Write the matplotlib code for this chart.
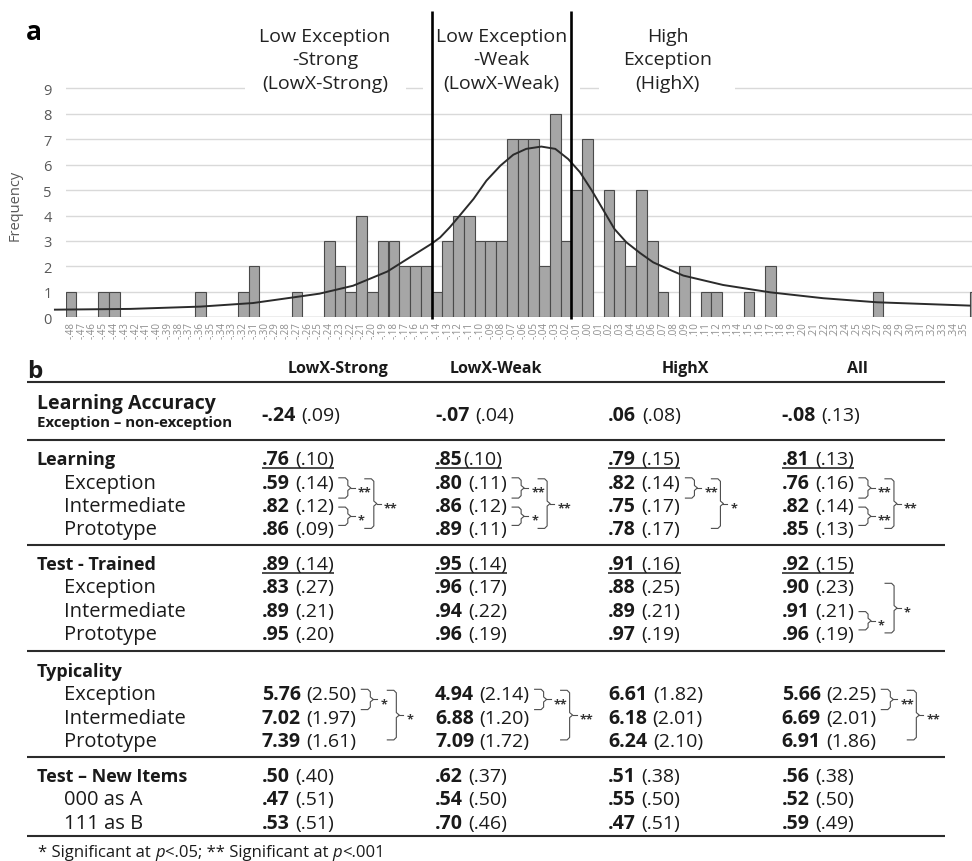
import numpy as np
import matplotlib
matplotlib.use('Agg')
import matplotlib.pyplot as plt
from matplotlib.patches import Rectangle

plt.rcParams['font.family'] = ['Open Sans', 'DejaVu Sans']

# ------------------------------------------------------------------ data: histogram (panel a)
score_hundredths = list(range(-48, 37))
score_labels = [('-' if k < 0 else '') + '.%02d' % abs(k) for k in score_hundredths]
frequency = [
    1, 0, 0, 1, 1, 0, 0, 0, 0, 0,   # -.48 .. -.39
    0, 0, 1, 0, 0, 0, 1, 2, 0, 0,   # -.38 .. -.29
    0, 1, 0, 0, 3, 2, 1, 4, 1, 3,   # -.28 .. -.19
    3, 2, 2, 2, 1, 3, 4, 4, 3, 3,   # -.18 .. -.09
    3, 7, 7, 7, 2, 8, 3, 5, 7, 0,   # -.08 .. .01
    5, 3, 2, 5, 3, 1, 0, 2, 0, 1,   # .02 .. .11
    1, 0, 0, 1, 0, 2, 0, 0, 0, 0,   # .12 .. .21
    0, 0, 0, 0, 0, 1, 0, 0, 0, 0,   # .22 .. .31
    0, 0, 0, 0, 1,                  # .32 .. .36
]
curve_score = [-0.495, -0.425, -0.360, -0.311, -0.274, -0.249, -0.218, -0.186, -0.165,
               -0.145, -0.137, -0.128, -0.119, -0.106, -0.094, -0.081, -0.069, -0.057,
               -0.043, -0.030, -0.018, -0.007, 0.004, 0.015, 0.025, 0.036, 0.049,
               0.061, 0.079, 0.089, 0.126, 0.170, 0.219, 0.269, 0.355]
curve_freq = [0.30, 0.33, 0.42, 0.56, 0.78, 0.93, 1.24, 1.80, 2.36,
              2.89, 3.14, 3.54, 3.99, 4.65, 5.37, 5.96, 6.39, 6.62,
              6.71, 6.62, 6.22, 5.70, 4.98, 4.19, 3.47, 2.95, 2.52,
              2.16, 1.82, 1.64, 1.27, 0.98, 0.75, 0.59, 0.46]
group_bounds = [-0.145, -0.015]
group_titles = [["Low Exception", "-Strong", "(LowX-Strong)"],
                ["Low Exception", "-Weak", "(LowX-Weak)"],
                ["High", "Exception", "(HighX)"]]

# ------------------------------------------------------------------ data: table (panel b)
col_names = ["LowX-Strong", "LowX-Weak", "HighX", "All"]
acc_label = "Learning Accuracy"
acc_sub = "Exception \u2013 non-exception"
acc_vals = ["-.24 (.09)", "-.07 (.04)", ".06 (.08)", "-.08 (.13)"]

sub_labels = ["Exception", "Intermediate", "Prototype"]
learn_all = [".76 (.10)", ".85(.10)", ".79 (.15)", ".81 (.13)"]
learn_exc = [".59 (.14)", ".80 (.11)", ".82 (.14)", ".76 (.16)"]
learn_int = [".82 (.12)", ".86 (.12)", ".75 (.17)", ".82 (.14)"]
learn_pro = [".86 (.09)", ".89 (.11)", ".78 (.17)", ".85 (.13)"]

trained_all = [".89 (.14)", ".95 (.14)", ".91 (.16)", ".92 (.15)"]
trained_exc = [".83 (.27)", ".96 (.17)", ".88 (.25)", ".90 (.23)"]
trained_int = [".89 (.21)", ".94 (.22)", ".89 (.21)", ".91 (.21)"]
trained_pro = [".95 (.20)", ".96 (.19)", ".97 (.19)", ".96 (.19)"]

typ_exc = ["5.76 (2.50)", "4.94 (2.14)", "6.61 (1.82)", "5.66 (2.25)"]
typ_int = ["7.02 (1.97)", "6.88 (1.20)", "6.18 (2.01)", "6.69 (2.01)"]
typ_pro = ["7.39 (1.61)", "7.09 (1.72)", "6.24 (2.10)", "6.91 (1.86)"]

new_labels = ["000 as A", "111 as B"]
new_all = [".50 (.40)", ".62 (.37)", ".51 (.38)", ".56 (.38)"]
new_000 = [".47 (.51)", ".54 (.50)", ".55 (.50)", ".52 (.50)"]
new_111 = [".53 (.51)", ".70 (.46)", ".47 (.51)", ".59 (.49)"]

# significance brackets: (column, from row, to row, label); rows 1..3 = Exception..Prototype
learn_sig = [(0, 1, 2, '**'), (0, 2, 3, '*'), (0, 1, 3, '**'),
             (1, 1, 2, '**'), (1, 2, 3, '*'), (1, 1, 3, '**'),
             (2, 1, 2, '**'), (2, 1, 3, '*'),
             (3, 1, 2, '**'), (3, 2, 3, '**'), (3, 1, 3, '**')]
trained_sig = [(3, 2, 3, '*'), (3, 1, 3, '*')]
typ_sig = [(0, 1, 2, '*'), (0, 1, 3, '*'),
           (1, 1, 2, '**'), (1, 1, 3, '**'),
           (3, 1, 2, '**'), (3, 1, 3, '**')]
footnote_parts = [("* Significant at ", False), ("p", True), ("<.05; ** Significant at ", False),
                  ("p", True), ("<.001", False)]

# ------------------------------------------------------------------ figure
W, H = 972.0, 862.0
fig = plt.figure(figsize=(W / 100, H / 100), dpi=100)

# histogram axes geometry (pixels)
X0, BIN = 65.7, 10.76
Y0, UNIT = 318.3, 25.444
YTOP = 9.05
ax = fig.add_axes([X0 / W, 1 - Y0 / H, (W - X0) / W, YTOP * UNIT / H])

idx = np.arange(len(frequency))
ax.bar(idx, frequency, width=1.0, color='#a6a6a6', edgecolor='#4a4a4a', linewidth=0.8, zorder=2)
xmax = -0.5 + (W - X0) / BIN
ax.set_xlim(-0.5, xmax)
ax.set_ylim(0, YTOP)
ax.set_yticks(range(10))
ax.grid(axis='y', color='#d9d9d9', lw=1.0)
ax.set_axisbelow(True)
for s in ax.spines.values():
    s.set_visible(False)
shown = [i for i in idx if i <= xmax - 0.5]
ax.set_xticks(shown)
ax.set_xticklabels([score_labels[i] for i in shown], rotation=90, fontsize=7, color='#8c8c8c')
ax.tick_params(axis='x', length=0, pad=3)
ax.tick_params(axis='y', length=0, pad=10, labelsize=10.5, labelcolor='#595959')

curve_idx = (np.array(curve_score) + 0.48) * 100
ax.plot(curve_idx, curve_freq, color='#2b2b2b', lw=1.4, clip_on=False, zorder=4,
        solid_joinstyle='round')

# white masks behind the group titles (hide top gridline)
def px2idx(px):
    return (px - X0) / BIN - 0.5
for (a, b) in [(245, 406), (423, 580), (599, 735)]:
    ax.add_patch(Rectangle((px2idx(a), 8.85), px2idx(b) - px2idx(a), 0.4,
                           facecolor='white', edgecolor='none', zorder=1.5, clip_on=False))

for gb in group_bounds:
    gx = (gb + 0.48) * 100
    ax.plot([gx, gx], [(Y0 - 320) / UNIT, (Y0 - 11.7) / UNIT], color='black', lw=1.9,
            clip_on=False, zorder=6, solid_capstyle='butt')

# ------------------------------------------------------------------ overlay (pixel coords)
tax = fig.add_axes([0, 0, 1, 1])
tax.set_xlim(0, W)
tax.set_ylim(H, 0)
tax.axis('off')
renderer = fig.canvas.get_renderer()
TXT = '#1a1a1a'


def put(x, y, s, **kw):
    kw.setdefault('va', 'baseline')
    kw.setdefault('ha', 'left')
    kw.setdefault('color', TXT)
    return tax.text(x, y, s, **kw)


def right_of(t):
    return t.get_window_extent(renderer).x1


fig.text(26 / W, 1 - 40 / H, 'a', fontsize=19, fontweight='bold', ha='left', va='baseline')
put(15, 205, 'Frequency', fontsize=10.5, color='#595959', rotation=90, ha='center', va='center')

for cx, lines in zip([325, 501.5, 667.5], group_titles):
    for j, ln in enumerate(lines):
        put(cx, 42 + 23.3 * j, ln, fontsize=14, ha='center', color='#222222')

# ---------------- table
put(27, 378, 'b', fontsize=17.5, fontweight='bold')
for cx, nm in zip([337.5, 496, 685, 857.5], col_names):
    put(cx, 373, nm, fontsize=11.5, fontweight='bold', ha='center')

RULE_Y = [383, 441, 546, 652, 758, 837]
tax.hlines(RULE_Y, 27, 945, color='#2b2b2b', lw=1.5)

COL_X = [261.7, 435, 608.3, 781.7]
VAL_FS = 14
LAB_FS = 14.5


def cell(x, yb, s, underline=False):
    m, sd = s.split('(')
    gap = 5.5 if m.endswith(' ') else 0.8
    t1 = put(x, yb, m.strip(), fontsize=VAL_FS, fontweight='bold')
    x2 = right_of(t1) + gap
    t2 = put(x2, yb, '(' + sd, fontsize=VAL_FS)
    x_end = right_of(t2)
    if underline:
        tax.plot([x, x_end], [yb + 3.5, yb + 3.5], color=TXT, lw=1.1, solid_capstyle='butt')
    return x_end


def bracket(R, top, bot, label, big):
    a0 = R + (31 if big else 5)
    v = a0 + 9
    mid = (top + bot) / 2.0
    xs = [a0, v - 2.5, v, v, v + 3, v, v, v - 2.5, a0]
    ys = [top, top, top + 2.5, mid - 2.5, mid, mid + 2.5, bot - 2.5, bot, bot]
    tax.plot(xs, ys, color='#4d4d4d', lw=0.8)
    tax.plot([v + 3, v + 7], [mid, mid], color='#4d4d4d', lw=0.8)
    put(v + 10, mid + 7.5, label, fontsize=9, fontweight='bold', color='#333333')


# Learning accuracy
put(36.7, 409, acc_label, fontsize=14, fontweight='bold')
put(36.7, 427, acc_sub, fontsize=10.8, fontweight='bold')
for x, v in zip(COL_X, acc_vals):
    cell(x, 421, v)

PITCH = 23.3
sections = [
    ("Learning", 465.5, learn_all, True, sub_labels, [learn_exc, learn_int, learn_pro], learn_sig),
    ("Test - Trained", 570, trained_all, True, sub_labels, [trained_exc, trained_int, trained_pro], trained_sig),
    ("Typicality", 677, None, False, sub_labels, [typ_exc, typ_int, typ_pro], typ_sig),
    ("Test \u2013 New Items", 782, new_all, False, new_labels, [new_000, new_111], []),
]

for title, yb0, head_vals, under, labels, rows, sig in sections:
    put(36.7, yb0, title, fontsize=13, fontweight='bold')
    if head_vals is not None:
        for x, v in zip(COL_X, head_vals):
            cell(x, yb0, v, underline=under)
    ends = {}
    for r, (lab, vals) in enumerate(zip(labels, rows), start=1):
        yb = yb0 + PITCH * r
        put(64, yb, lab, fontsize=LAB_FS)
        for c, (x, v) in enumerate(zip(COL_X, vals)):
            ends[(r, c)] = cell(x, yb, v)
    for c, r1, r2, lab in sig:
        R = max(ends[(r, c)] for r in (1, 2, 3))
        c1 = yb0 + PITCH * r1 - 7
        c2 = yb0 + PITCH * r2 - 7
        big = (r2 - r1) == 2
        if big:
            top, bot = c1 - 2, c2 + 1
        elif r1 == 1:
            top, bot = c1 - 3, c2 - 6
        else:
            top, bot = c1 + 3, c2 - 2
        bracket(R, top, bot, lab, big)

# footnote
fx = 38
for txt, ital in footnote_parts:
    t = put(fx, 857, txt, fontsize=12, style='italic' if ital else 'normal')
    fx = right_of(t)

fig.savefig('out.png', dpi=100)
